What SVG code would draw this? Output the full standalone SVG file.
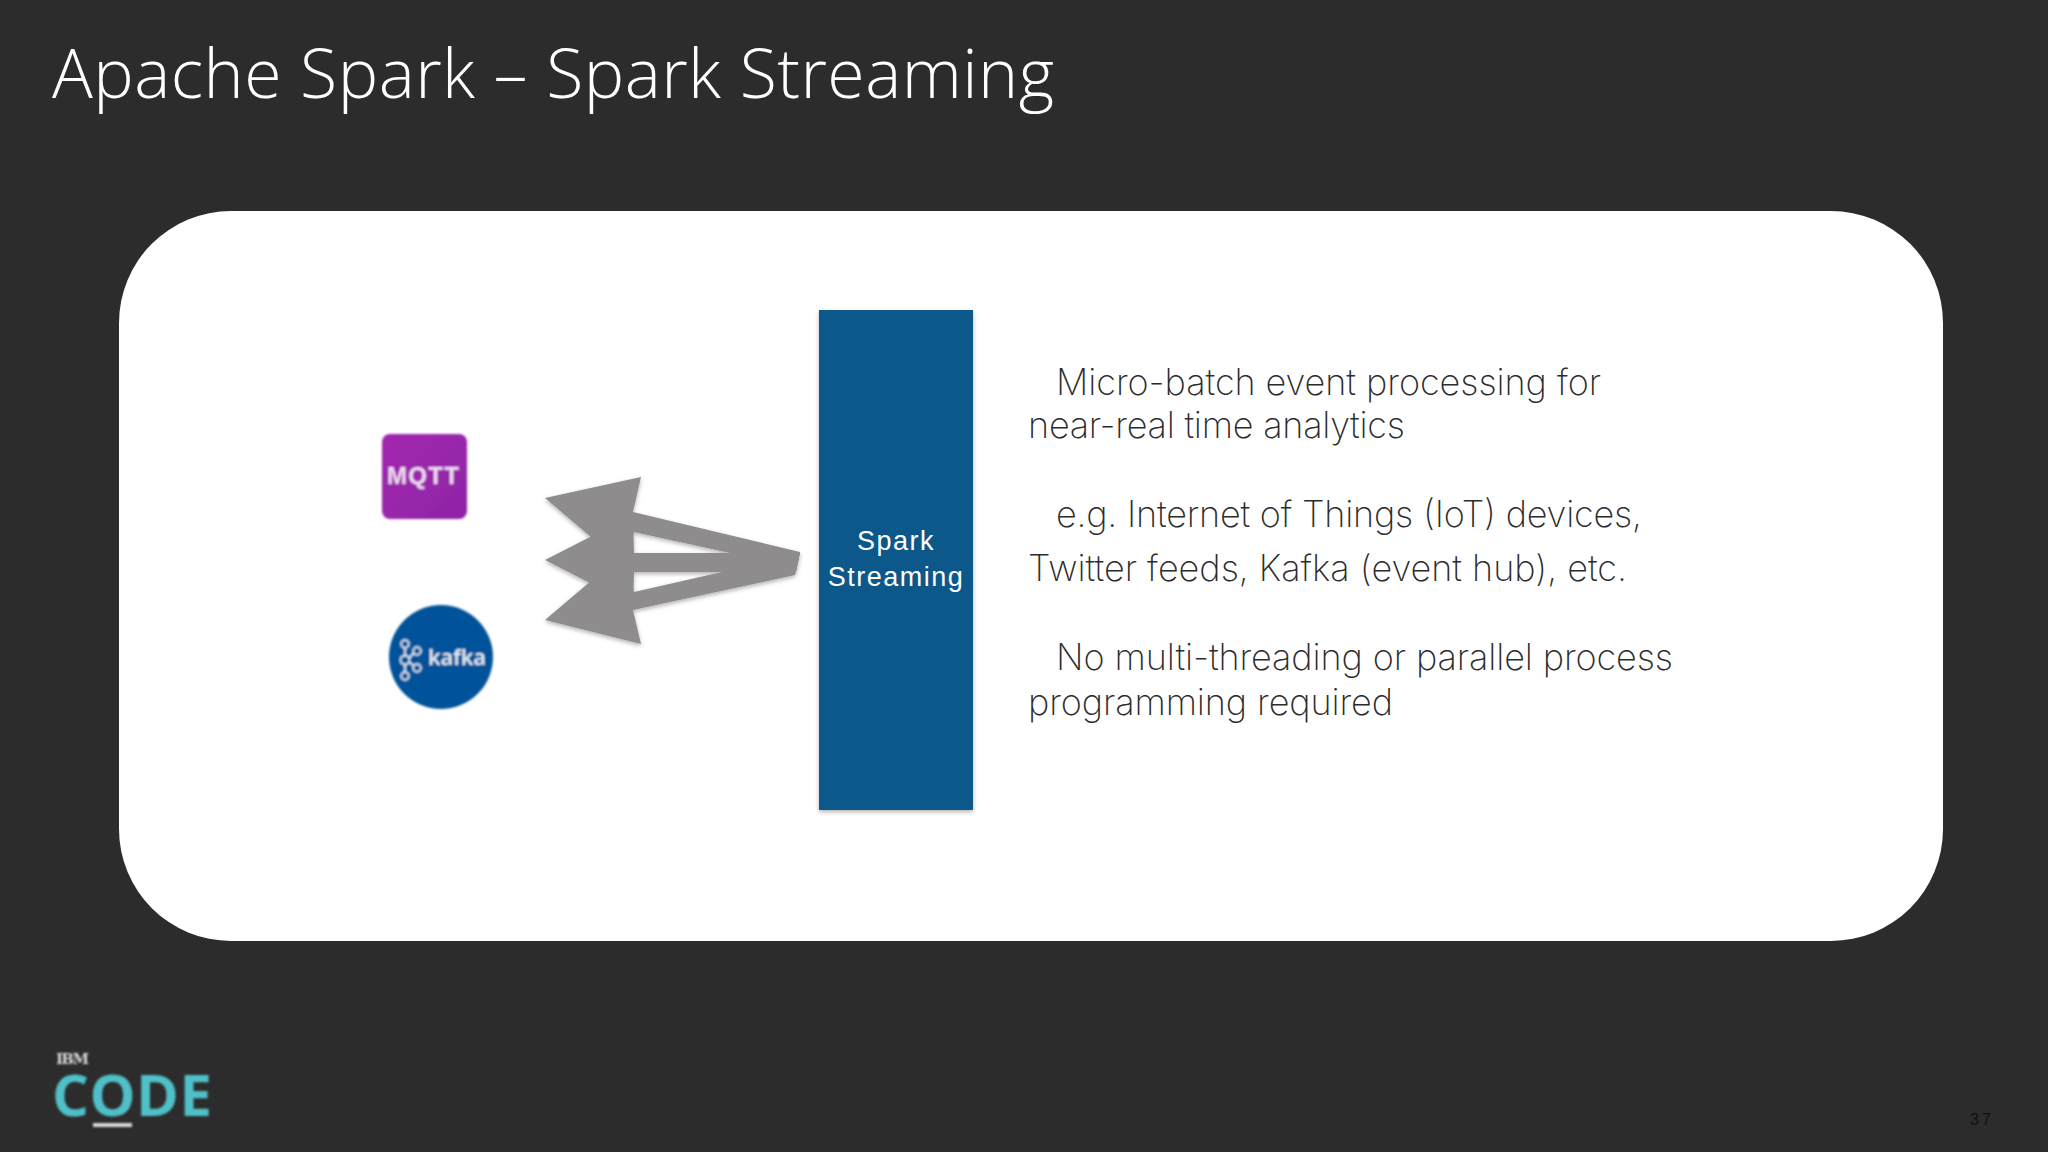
<svg xmlns="http://www.w3.org/2000/svg" width="2048" height="1152" viewBox="0 0 2048 1152">
<style>
.body{font-family:"Inter","Liberation Sans",sans-serif;font-weight:250;font-size:36px;fill:#2c2c2c}
.title{font-family:"Open Sans","Noto Sans",sans-serif;font-weight:350;font-size:68px;fill:#fff}
.box{font-family:"Liberation Sans",sans-serif;font-size:27px;fill:#fff;text-anchor:middle;letter-spacing:1.5px}
.arrow{fill:#8e8c8d}
</style>
<defs>
<filter id="soft" x="-5%" y="-5%" width="110%" height="110%"><feGaussianBlur stdDeviation="0.9"/></filter>
<filter id="shadow" x="-10%" y="-10%" width="120%" height="120%"><feDropShadow dx="0" dy="2" stdDeviation="2" flood-color="#000" flood-opacity="0.3"/></filter>
<linearGradient id="purple" x1="0" y1="0" x2="1" y2="1"><stop offset="0" stop-color="#a327b0"/><stop offset="1" stop-color="#8e24a6"/></linearGradient>
</defs>
<rect width="2048" height="1152" fill="#2c2c2d"/>
<text class="title" x="52" y="98" textLength="1002">Apache Spark – Spark Streaming</text>
<rect id="panel" x="119" y="211" width="1824" height="730" rx="112" ry="112" fill="#fff"/>
<g id="connectors" filter="url(#shadow)">
<polygon class="arrow" points="545,498 641,477 633,512 800,552 796,572 730,553 634,532 625,566"/>
<polygon class="arrow" points="545,560 633,515 634,553 800,553 796,572 634,572 633,605"/>
<polygon class="arrow" points="545,620 625,552 634,592 722,572 800,552 795,575 633,610 641,644"/>
</g>
<g id="mqtt" filter="url(#soft)">
<rect x="382" y="434" width="85" height="85" rx="8" fill="url(#purple)"/>
<text x="423" y="484" font-family="Liberation Sans, sans-serif" font-weight="700" font-size="24" fill="#f0dcf3" text-anchor="middle" textLength="72">MQTT</text>
</g>
<g id="kafka" filter="url(#soft)">
<circle cx="441" cy="657" r="52" fill="#05539a"/>
<g fill="none" stroke="#dfeaf3" stroke-width="1.8">
<circle cx="405" cy="644" r="3.8"/><circle cx="405" cy="660" r="4.5"/><circle cx="405" cy="676" r="3.8"/><circle cx="417" cy="651" r="3.8"/><circle cx="417" cy="668" r="3.8"/>
<path d="M405 648V655M405 665V672M409 658L414 653M409 662L414 666"/>
</g>
<text x="428" y="665" font-family="Open Sans, sans-serif" font-weight="600" font-size="22" fill="#e6eef5" textLength="58">kafka</text>
</g>
<g id="spark-streaming">
<rect x="819" y="310" width="154" height="500" fill="#0a588a" filter="url(#shadow)"/>
<text class="box" x="896" y="550">Spark</text>
<text class="box" x="896" y="586">Streaming</text>
</g>
<g id="description">
<text class="body" x="1056" y="395" textLength="545">Micro-batch event processing for</text>
<text class="body" x="1028" y="438" textLength="377">near-real time analytics</text>
<text class="body" x="1056" y="527" textLength="586">e.g. Internet of Things (IoT) devices,</text>
<text class="body" x="1028" y="581" textLength="599">Twitter feeds, Kafka (event hub), etc.</text>
<text class="body" x="1056" y="670" textLength="617">No multi-threading or parallel process</text>
<text class="body" x="1028" y="715" textLength="365">programming required</text>
</g>
<g id="logo" filter="url(#soft)">
<text x="56" y="1064" font-family="DejaVu Serif, serif" font-weight="700" font-size="15" fill="#d8d8d8" textLength="33">IBM</text>
<text x="52" y="1116" font-family="Open Sans, sans-serif" font-weight="700" font-size="58" fill="#4fc0c8" textLength="160">CODE</text>
<rect x="93" y="1123" width="39" height="4" fill="#d8d8d8"/>
</g>
<text id="page" x="1970" y="1125" font-family="Liberation Sans, sans-serif" font-size="16" letter-spacing="3" fill="#111">37</text>
</svg>
